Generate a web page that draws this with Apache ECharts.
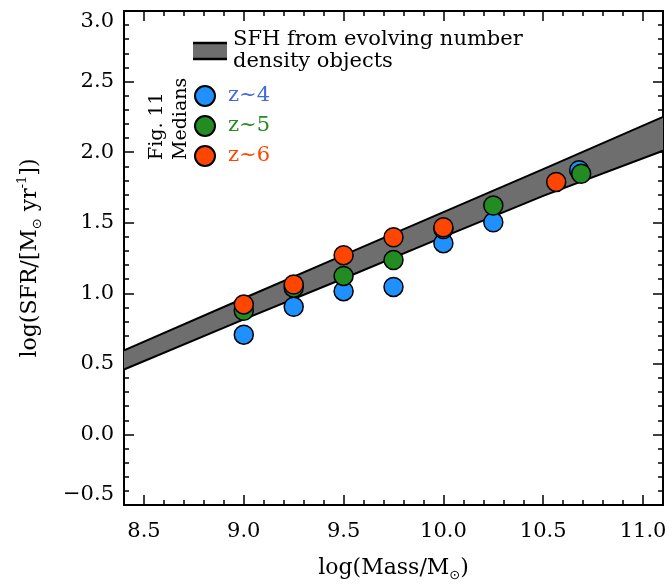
<!DOCTYPE html>
<html>
<head>
<meta charset="utf-8">
<script src="https://cdn.jsdelivr.net/npm/echarts@6/dist/echarts.min.js"></script>
<style>html,body{margin:0;padding:0;background:#fff;}#chart{width:672px;height:587px;}</style>
</head>
<body>
<div id="chart"></div>
<script>
// ---- data ----
const xTickLabels = [8.5, 9.0, 9.5, 10.0, 10.5, 11.0];
const yTickLabels = [-0.5, 0.0, 0.5, 1.0, 1.5, 2.0, 2.5, 3.0];

const bandMass  = [8.4, 9.0, 9.5, 10.0, 10.5, 11.1];
const bandUpper = [0.595, 0.965, 1.27, 1.575, 1.88, 2.25];
const bandLower = [0.46, 0.815, 1.105, 1.40, 1.69, 2.01];

const massZ4 = [9.0, 9.25, 9.5, 9.75, 10.0, 10.25, 10.68];
const sfrZ4  = [0.707, 0.905, 1.015, 1.045, 1.355, 1.503, 1.872];
const massZ5 = [9.0, 9.25, 9.5, 9.75, 10.0, 10.25, 10.69];
const sfrZ5  = [0.876, 1.04, 1.123, 1.236, 1.455, 1.622, 1.847];
const massZ6 = [9.0, 9.25, 9.5, 9.75, 10.0, 10.565];
const sfrZ6  = [0.921, 1.062, 1.27, 1.397, 1.468, 1.789];

const seriesNames = ['z~4', 'z~5', 'z~6'];
const markerColors = ['#1E90FF', '#228B22', '#FF4500'];
const legendTextColors = ['#4169E1', '#228B22', '#FF4500'];

const FONT = 'DejaVu Serif';
const pair = (xs, ys) => xs.map((x, i) => [x, ys[i]]);
const fmt = v => (v < 0 ? '\u2212' + Math.abs(v).toFixed(1) : v.toFixed(1));

const chart = echarts.init(document.getElementById('chart'), null, {renderer: 'canvas'});

const XMIN = 8.4, XMAX = 11.1, YMIN = -0.5, YMAX = 3.0;
const lineStyle = {color: '#000', width: 2};

function xAxisDef(position, major, withLabels) {
  const a = {
    type: 'value', position: position, min: XMIN, max: XMAX,
    axisLine: {show: true, onZero: false, lineStyle: lineStyle},
    splitLine: {show: false},
    axisTick: {show: true, inside: true, length: major ? 10 : 5, lineStyle: {color: '#000', width: 1.5}},
    axisLabel: {show: false}
  };
  if (major) {
    a.axisTick.customValues = xTickLabels;
    a.axisLabel = {show: withLabels, customValues: xTickLabels, formatter: fmt,
      fontFamily: FONT, fontSize: 21, color: '#000', margin: 16};
  } else {
    a.interval = 0.1;
  }
  if (withLabels) {
    a.name = 'log(Mass/M{sub|\u2299})';
    a.nameLocation = 'middle';
    a.nameGap = 49;
    a.nameTextStyle = {fontFamily: FONT, fontSize: 22, color: '#000', lineHeight: 28,
      rich: {sub: {fontFamily: 'DejaVu Sans', fontSize: 13, verticalAlign: 'bottom', lineHeight: 12, color: '#000'}}};
  }
  return a;
}

function yAxisDef(position, withLabels) {
  const a = {
    type: 'value', position: position, min: YMIN, max: YMAX, interval: 0.5,
    axisLine: {show: true, onZero: false, lineStyle: lineStyle},
    splitLine: {show: false},
    axisTick: {show: true, inside: true, length: 10, lineStyle: {color: '#000', width: 1.5}},
    minorTick: {show: true, splitNumber: 5, length: 5, lineStyle: {color: '#000', width: 1.5}},
    axisLabel: {show: withLabels, formatter: fmt, fontFamily: FONT, fontSize: 21, color: '#000', margin: 10,
      verticalAlignMaxLabel: 'top', verticalAlignMinLabel: 'bottom'}
  };
  if (withLabels) {
    a.name = 'log(SFR/[M{sub|\u2299} yr{sup|-1}])';
    a.nameLocation = 'middle';
    a.nameGap = 80;
    a.nameTextStyle = {fontFamily: FONT, fontSize: 22, color: '#000', lineHeight: 28,
      rich: {
        sub: {fontFamily: 'DejaVu Sans', fontSize: 13, verticalAlign: 'bottom', lineHeight: 12, color: '#000'},
        sup: {fontFamily: FONT, fontSize: 13, verticalAlign: 'top', lineHeight: 12, color: '#000'}
      }};
  }
  return a;
}

const scatterSeries = seriesNames.map((name, k) => ({
  name: name,
  type: 'scatter',
  xAxisIndex: 0, yAxisIndex: 0,
  data: pair([massZ4, massZ5, massZ6][k], [sfrZ4, sfrZ5, sfrZ6][k]),
  symbol: 'circle',
  symbolSize: 19,
  itemStyle: {color: markerColors[k], borderColor: '#000', borderWidth: 1.5, opacity: 1},
  emphasis: {disabled: true},
  z: 3 + k
}));

const option = {
  animation: false,
  backgroundColor: '#fff',
  grid: {left: 124, top: 11, right: 9, bottom: 78, containLabel: false},
  xAxis: [
    xAxisDef('bottom', true, true),
    xAxisDef('bottom', false, false),
    xAxisDef('top', true, false),
    xAxisDef('top', false, false)
  ],
  yAxis: [
    yAxisDef('left', true),
    yAxisDef('right', false)
  ],
  legend: {
    data: seriesNames.map((n, k) => ({name: n, textStyle: {color: legendTextColors[k]}})),
    orient: 'vertical',
    left: 189, top: 80,
    itemWidth: 36, itemHeight: 20, itemGap: 8,
    icon: 'circle',
    selectedMode: false,
    textStyle: {fontFamily: FONT, fontSize: 21, lineHeight: 20}
  },
  graphic: [
    {type: 'rect', left: 193, top: 43, shape: {width: 34, height: 16}, style: {fill: '#6e6e6e'}, z: 10},
    {type: 'line', shape: {x1: 193, y1: 43, x2: 227, y2: 43}, style: {stroke: '#000', lineWidth: 2.5}, z: 11},
    {type: 'line', shape: {x1: 193, y1: 59, x2: 227, y2: 59}, style: {stroke: '#000', lineWidth: 2.5}, z: 11},
    {type: 'text', x: 233, y: 40, style: {text: 'SFH from evolving number', fontFamily: FONT, fontSize: 21,
      fill: '#000', textVerticalAlign: 'middle'}, z: 11},
    {type: 'text', x: 233, y: 61.5, style: {text: 'density objects', fontFamily: FONT, fontSize: 21,
      fill: '#000', textVerticalAlign: 'middle'}, z: 11},
    {type: 'text', x: 157, y: 160, rotation: Math.PI / 2, style: {text: 'Fig. 11', fontFamily: FONT, fontSize: 19,
      fill: '#000', textAlign: 'left', textVerticalAlign: 'middle'}, z: 11},
    {type: 'text', x: 181, y: 160, rotation: Math.PI / 2, style: {text: 'Medians', fontFamily: FONT, fontSize: 19,
      fill: '#000', textAlign: 'left', textVerticalAlign: 'middle'}, z: 11}
  ],
  series: [
    {
      name: 'SFH from evolving number density objects',
      type: 'custom',
      xAxisIndex: 0, yAxisIndex: 0,
      data: [[bandMass[0], bandUpper[0]]],
      renderItem: function (params, api) {
        const up = bandMass.map((x, i) => api.coord([x, bandUpper[i]]));
        const lo = bandMass.map((x, i) => api.coord([x, bandLower[i]]));
        return {
          type: 'group',
          children: [
            {type: 'polygon', shape: {points: up.concat(lo.slice().reverse())}, style: {fill: '#6e6e6e', stroke: null}},
            {type: 'polyline', shape: {points: up}, style: {stroke: '#000', lineWidth: 2, fill: null}},
            {type: 'polyline', shape: {points: lo}, style: {stroke: '#000', lineWidth: 2, fill: null}}
          ]
        };
      },
      z: 2,
      silent: true
    }
  ].concat(scatterSeries)
};

chart.setOption(option);
</script>
</body>
</html>
